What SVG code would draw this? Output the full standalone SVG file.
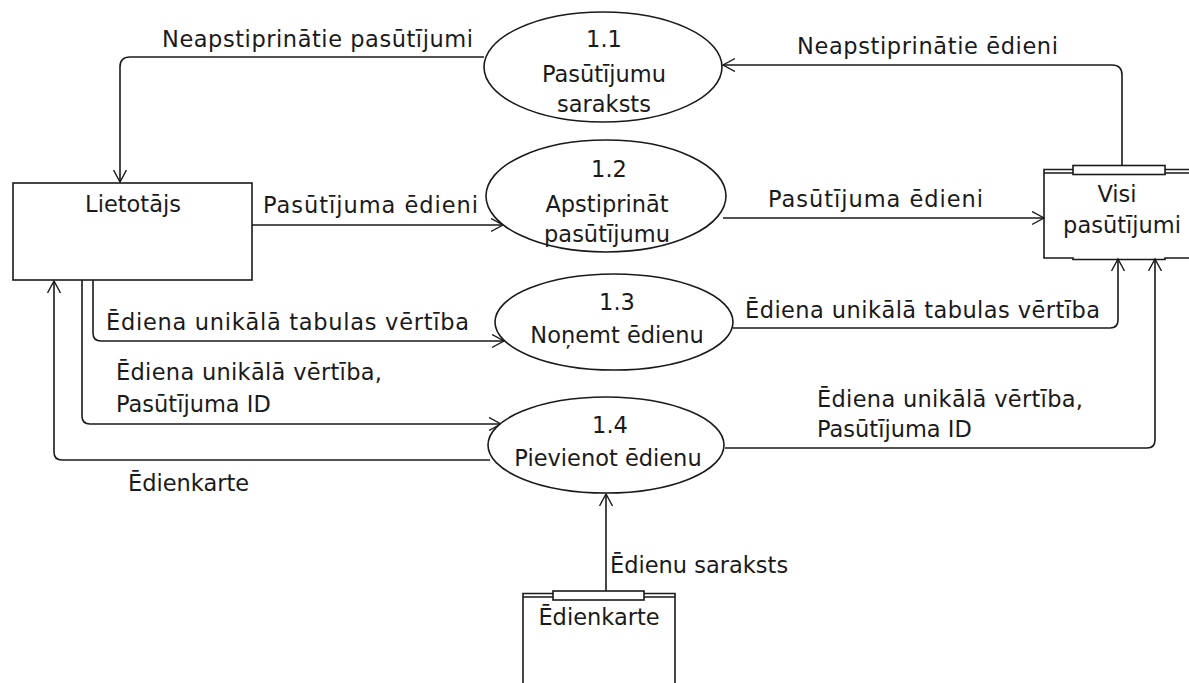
<svg xmlns="http://www.w3.org/2000/svg" width="1189" height="683" viewBox="0 0 1189 683">
<style>
.s{fill:none;stroke:#1a1a1a;stroke-width:1.6}
.n{fill:#fff;stroke:#1a1a1a;stroke-width:1.6}
.t{font-family:"DejaVu Sans",sans-serif;font-size:22.5px;fill:#1a1a1a}
.c{text-anchor:middle}
</style>
<defs>
<marker id="ah" markerWidth="16" markerHeight="16" refX="12" refY="7" orient="auto" markerUnits="userSpaceOnUse">
<path d="M0,0.5 L12,7 L0,13.5" fill="none" stroke="#1a1a1a" stroke-width="1.4"/>
</marker>
</defs>
<rect width="1189" height="683" fill="#fff"/>
<g id="connectors">
<path class="s" d="M484,57 L130,57 Q120,57 120,67 L120,182" marker-end="url(#ah)"/>
<path class="s" d="M1122,165 L1122,75 Q1122,65 1112,65 L723,65" marker-end="url(#ah)"/>
<path class="s" d="M252,225 L503,225" marker-end="url(#ah)"/>
<path class="s" d="M723,218 L1044,218" marker-end="url(#ah)"/>
<path class="s" d="M93,280 L93,333 Q93,341 101,341 L504,341" marker-end="url(#ah)"/>
<path class="s" d="M733,328 L1110,328 Q1118,328 1118,320 L1118,259" marker-end="url(#ah)"/>
<path class="s" d="M82,280 L82,416 Q82,424 90,424 L501,424" marker-end="url(#ah)"/>
<path class="s" d="M725,448 L1147,448 Q1155,448 1155,440 L1155,259" marker-end="url(#ah)"/>
<path class="s" d="M490,460 L62,460 Q54,460 54,452 L54,281" marker-end="url(#ah)"/>
<path class="s" d="M606,591 L606,494" marker-end="url(#ah)"/>
</g>
<g id="labels">
<text class="t" x="162" y="47" textLength="311">Neapstiprinātie pasūtījumi</text>
<text class="t" x="797" y="54" textLength="261">Neapstiprinātie ēdieni</text>
<text class="t" x="263" y="213" textLength="215">Pasūtījuma ēdieni</text>
<text class="t" x="768" y="207" textLength="215">Pasūtījuma ēdieni</text>
<text class="t" x="106" y="330" textLength="363">Ēdiena unikālā tabulas vērtība</text>
<text class="t" x="745" y="318" textLength="355">Ēdiena unikālā tabulas vērtība</text>
<text class="t" x="116" y="380" textLength="266">Ēdiena unikālā vērtība,</text>
<text class="t" x="116" y="412">Pasūtījuma ID</text>
<text class="t" x="817" y="407" textLength="266">Ēdiena unikālā vērtība,</text>
<text class="t" x="817" y="437">Pasūtījuma ID</text>
<text class="t" x="128" y="491">Ēdienkarte</text>
<text class="t" x="610" y="573">Ēdienu saraksts</text>
</g>
<g id="lietotajs">
<rect class="n" x="13" y="183" width="239" height="97"/>
<text class="t c" x="133" y="212">Lietotājs</text>
</g>
<g id="p11">
<ellipse class="n" cx="603" cy="67" rx="119" ry="55"/>
<text class="t c" x="604" y="47">1.1</text>
<text class="t c" x="604" y="82">Pasūtījumu</text>
<text class="t c" x="604" y="112">saraksts</text>
</g>
<g id="p12">
<ellipse class="n" cx="606" cy="196" rx="120" ry="56"/>
<text class="t c" x="609" y="177">1.2</text>
<text class="t c" x="607" y="212">Apstiprināt</text>
<text class="t c" x="607" y="242">pasūtījumu</text>
</g>
<g id="p13">
<ellipse class="n" cx="614" cy="322" rx="119" ry="48"/>
<text class="t c" x="617" y="310">1.3</text>
<text class="t c" x="617" y="343">Noņemt ēdienu</text>
</g>
<g id="p14">
<ellipse class="n" cx="606" cy="445" rx="118" ry="48"/>
<text class="t c" x="610" y="433">1.4</text>
<text class="t c" x="608" y="466">Pievienot ēdienu</text>
</g>
<g id="visi">
<path class="s" d="M1189,169.5 L1044,169.5 L1044,258 L1073,258 L1073,259.5 L1165,259.5 L1165,258 L1189,258"/>
<path class="s" d="M1044,173 L1073,173 M1165,173 L1189,173"/>
<rect class="n" x="1073" y="165.5" width="92" height="9"/>
<text class="t c" x="1117" y="202">Visi</text>
<text class="t c" x="1122" y="233">pasūtījumi</text>
</g>
<g id="edienkarte">
<path class="s" d="M523,690 L523,593.5 L675,593.5 L675,690"/>
<path class="s" d="M523,597 L553,597 M644,597 L675,597"/>
<rect class="n" x="553" y="591" width="91" height="9"/>
<text class="t c" x="599" y="625">Ēdienkarte</text>
</g>
</svg>
